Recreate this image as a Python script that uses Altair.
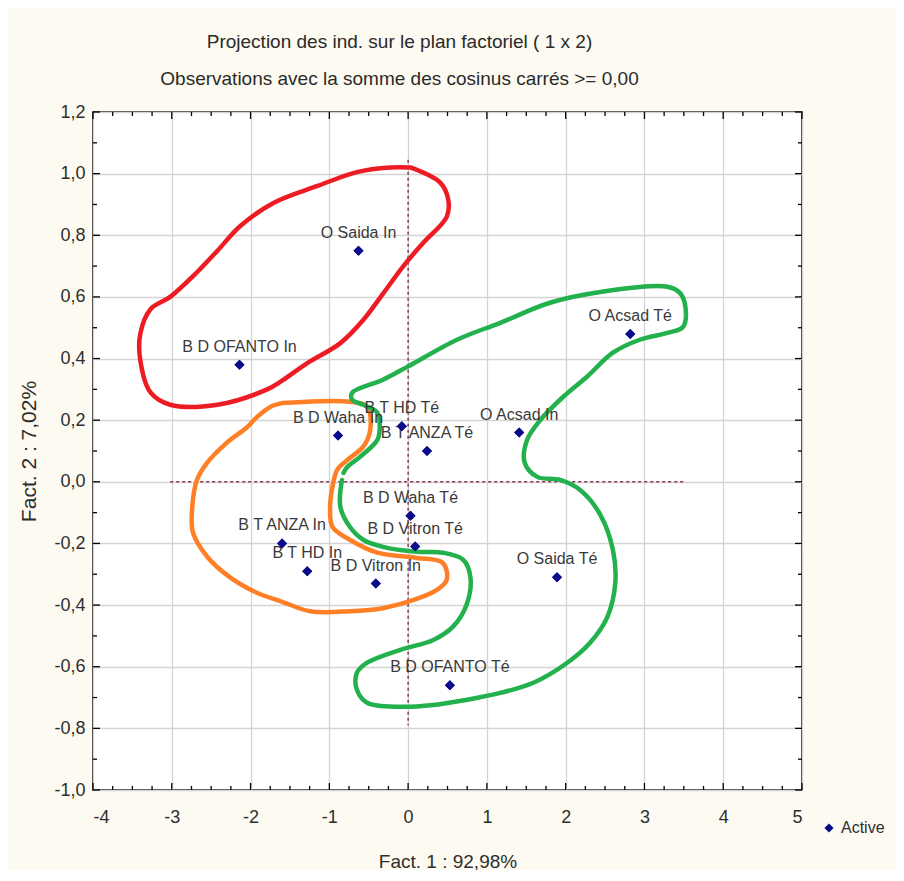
import altair as alt
import pandas as pd
import numpy as np

# ---------------- data ----------------
labels = ["O Saida In", "B D OFANTO In", "O Acsad Té", "B D Waha In", "B T HD Té",
          "B T ANZA Té", "O Acsad In", "B D Waha Té", "B D Vitron Té", "B T ANZA In",
          "B T HD In", "B D Vitron In", "O Saida Té", "B D OFANTO Té"]
fact1 = [-0.63, -2.14, 2.82, -0.89, -0.08, 0.24, 1.41, 0.03, 0.09, -1.60, -1.28, -0.41, 1.89, 0.53]
fact2 = [0.75, 0.38, 0.48, 0.15, 0.18, 0.10, 0.16, -0.11, -0.21, -0.20, -0.29, -0.33, -0.31, -0.66]

# hand-drawn outlines (data units)
red_x = [0.03, 0.41, 0.51, 0.49, 0.19, -0.06, -0.32, -0.57, -0.86, -1.28, -1.59, -1.79, -2.42, -3.02,
         -3.27, -3.40, -3.40, -3.27, -3.02, -2.68, -2.42, -2.13, -1.71, -1.15, -0.65, -0.23, 0.03]
red_y = [1.02, 0.97, 0.915, 0.86, 0.775, 0.70, 0.61, 0.525, 0.45, 0.385, 0.33, 0.30, 0.25, 0.25,
         0.29, 0.395, 0.48, 0.56, 0.60, 0.68, 0.75, 0.83, 0.905, 0.96, 1.005, 1.02, 1.02]

orange_x = [-1.59, -0.74, -0.52, -0.48, -0.57, -0.77, -0.90, -0.96, -0.99, -0.96, -0.74, -0.39, 0.11,
            0.44, 0.49, 0.37, 0.11, -0.32, -0.74, -1.24, -1.59, -1.92, -2.26, -2.55, -2.73, -2.74,
            -2.68, -2.55, -2.30, -2.04, -1.92, -1.75, -1.59]
orange_y = [0.256, 0.26, 0.243, 0.17, 0.114, 0.071, 0.039, -0.016, -0.081, -0.146, -0.188, -0.23,
            -0.247, -0.263, -0.318, -0.35, -0.38, -0.41, -0.42, -0.42, -0.39, -0.36, -0.31, -0.243,
            -0.165, -0.081, 0.006, 0.062, 0.127, 0.178, 0.21, 0.243, 0.256]

green_x = [-0.82, -0.77, -0.61, -0.39, -0.36, -0.39, -0.57, -0.71, -0.71, -0.32, -0.01, 0.62, 1.17,
           1.80, 2.44, 3.29, 3.45, 3.52, 3.49, 3.29, 2.94, 2.60, 2.27, 1.97, 1.68, 1.51, 1.48, 1.64,
           1.93, 2.18, 2.44, 2.60, 2.63, 2.53, 2.31, 2.02, 1.59, 1.17, 0.75, 0.32, -0.10, -0.52,
           -0.65, -0.65, -0.52, -0.10, 0.32, 0.57, 0.75, 0.79, 0.70, 0.44, 0.11, -0.32, -0.57,
           -0.74, -0.86, -0.84]
green_y = [0.029, 0.049, 0.081, 0.136, 0.178, 0.224, 0.25, 0.266, 0.289, 0.331, 0.373, 0.461, 0.516,
           0.581, 0.616, 0.633, 0.613, 0.568, 0.503, 0.483, 0.461, 0.419, 0.341, 0.276, 0.201, 0.136,
           0.062, 0.016, 0.006, -0.026, -0.107, -0.221, -0.328, -0.438, -0.522, -0.587, -0.652,
           -0.685, -0.707, -0.724, -0.73, -0.717, -0.675, -0.62, -0.587, -0.545, -0.513, -0.47,
           -0.393, -0.308, -0.253, -0.23, -0.227, -0.211, -0.188, -0.146, -0.081, 0.006]

# centroid axes (dotted)
hline_x = [-3.02, 3.53]
vline_y = [1.045, -0.79]

x_ticks = list(range(-4, 6))
y_ticks = [-1.0, -0.8, -0.6, -0.4, -0.2, 0.0, 0.2, 0.4, 0.6, 0.8, 1.0, 1.2]
x_minor = [float(v) for v in np.arange(-4, 5.001, 0.25) if abs(v - round(v)) > 1e-6]
y_minor = [round(float(v), 2) for v in np.arange(-0.9, 1.2, 0.2)]

W, H = 709, 678
XS = alt.Scale(domain=[-4, 5], nice=False, zero=False)
YS = alt.Scale(domain=[-1.0, 1.2], nice=False, zero=False)
FONT = "Liberation Sans"
TXT = "#2e2e2e"

pts = pd.DataFrame({"label": labels, "f1": fact1, "f2": fact2, "kind": ["Active"] * len(labels)})

def path_df(xs, ys):
    return pd.DataFrame({"x": xs, "y": ys, "o": list(range(len(xs)))})

# ---------------- layers ----------------
points = alt.Chart(pts).mark_point(shape="diamond", filled=True, size=100, opacity=1).encode(
    x=alt.X("f1:Q", scale=XS, axis=alt.Axis(
        values=x_ticks, ticks=False, domain=False, grid=True, gridColor="#d4d4d4", gridWidth=1.3,
        labelExpr="replace(format(datum.value, 'd'), '\u2212', '-')", labelFontSize=18,
        labelPadding=18, labelFont=FONT, labelColor=TXT,
        title="Fact. 1 : 92,98%", titleFontSize=19, titleFont=FONT,
        titleFontWeight="normal", titleColor=TXT, titleY=77, titleBaseline="alphabetic")),
    y=alt.Y("f2:Q", scale=YS, axis=alt.Axis(
        values=y_ticks, ticks=False, domain=False, grid=True, gridColor="#d4d4d4", gridWidth=1.3,
        labelExpr="replace(replace(format(datum.value, '.1f'), '.', ','), '\u2212', '-')",
        labelFontSize=18, labelPadding=8, labelFont=FONT, labelColor=TXT,
        title="Fact. 2 : 7,02%", titleFontSize=21, titleFont=FONT,
        titleFontWeight="normal", titleColor=TXT, titleX=-64, titleY=H / 2,
        titleAngle=-90, titleBaseline="middle", titleAlign="center")),
    color=alt.Color("kind:N", scale=alt.Scale(range=["#0a0a8c"]), legend=alt.Legend(
        title=None, orient="none", legendX=728, legendY=708, symbolType="diamond",
        symbolSize=85, labelFontSize=16, labelFont=FONT, labelColor=TXT,
        padding=0, symbolStrokeWidth=0)),
)

texts = alt.Chart(pts).mark_text(dy=-18, fontSize=16, font=FONT, color="#3a3a3a").encode(
    x=alt.X("f1:Q", scale=XS), y=alt.Y("f2:Q", scale=YS), text="label:N")

def outline(xs, ys, color):
    return alt.Chart(path_df(xs, ys)).mark_line(color=color, strokeWidth=4.5, strokeJoin="round",
                                                strokeCap="round", interpolate="catmull-rom").encode(
        x=alt.X("x:Q", scale=XS), y=alt.Y("y:Q", scale=YS), order="o:Q")

red = outline(red_x, red_y, "#ED1C24")
orange = outline(orange_x, orange_y, "#FF7F27")
green = outline(green_x, green_y, "#22B14C")

dash_col = "#8b3a4e"
hline = alt.Chart(pd.DataFrame({"x": [hline_x[0]], "x2": [hline_x[1]], "y": [0.0]})).mark_rule(
    color=dash_col, strokeDash=[3, 3], strokeWidth=1.5).encode(
    x=alt.X("x:Q", scale=XS), x2="x2:Q", y=alt.Y("y:Q", scale=YS))
vline = alt.Chart(pd.DataFrame({"y": [vline_y[0]], "y2": [vline_y[1]], "x": [0.0]})).mark_rule(
    color=dash_col, strokeDash=[3, 3], strokeWidth=1.5).encode(
    y=alt.Y("y:Q", scale=YS), y2="y2:Q", x=alt.X("x:Q", scale=XS))

def xticks(vals, length):
    d = pd.DataFrame({"v": vals})
    bot = alt.Chart(d).mark_rule(color="black", strokeWidth=1.3).encode(
        x=alt.X("v:Q", scale=XS), y=alt.value(H), y2=alt.value(H - length))
    top = alt.Chart(d).mark_rule(color="black", strokeWidth=1.3).encode(
        x=alt.X("v:Q", scale=XS), y=alt.value(0), y2=alt.value(length))
    return [bot, top]

def yticks(vals, length):
    d = pd.DataFrame({"v": vals})
    left = alt.Chart(d).mark_rule(color="black", strokeWidth=1.3).encode(
        y=alt.Y("v:Q", scale=YS), x=alt.value(0), x2=alt.value(length))
    right = alt.Chart(d).mark_rule(color="black", strokeWidth=1.3).encode(
        y=alt.Y("v:Q", scale=YS), x=alt.value(W), x2=alt.value(W - length))
    return [left, right]

tick_layers = xticks(x_ticks, 7) + xticks(x_minor, 4) + yticks(y_ticks, 7) + yticks(y_minor, 4)

chart = alt.layer(
    points, hline, vline, *tick_layers, red, orange, green, texts, points
).properties(
    width=W, height=H,
    autosize="none",
    padding={"left": 85, "top": 104, "right": 94, "bottom": 80},
    background="#fdfaf1",
    title=alt.TitleParams(
        text=["Projection des ind. sur le plan factoriel ( 1 x  2)",
              "Observations avec la somme des cosinus carrés >=  0,00"],
        anchor="middle", dx=-48, fontSize=19, font=FONT,
        fontWeight="normal", color="#2a2a2a", lineHeight=37, offset=14),
).configure_view(
    fill="white", stroke="black", strokeWidth=1.5
)

chart.save("out.html", embed_options={"renderer": "svg", "actions": False})
